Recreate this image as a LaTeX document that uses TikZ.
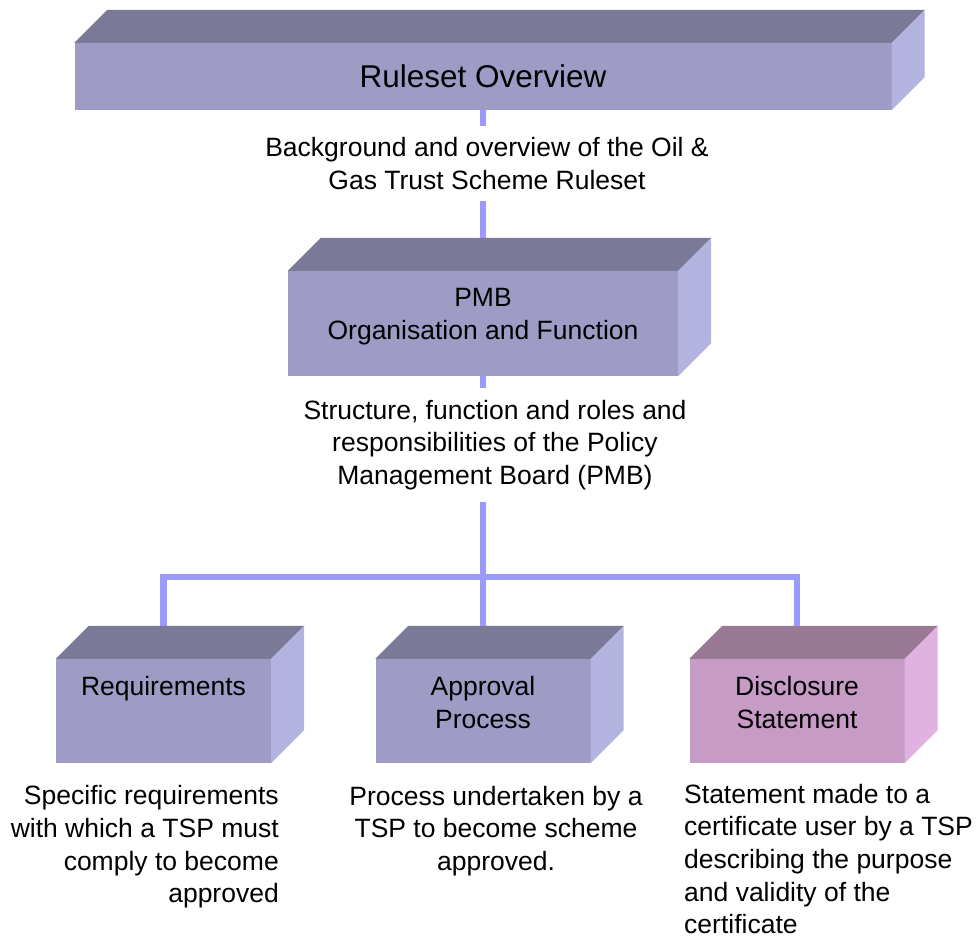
\documentclass[tikz,border=0pt]{standalone}
\usepackage{fontspec}
\setmainfont{Liberation Sans}
\usetikzlibrary{backgrounds}

\definecolor{boxfront}{HTML}{9E9CC5}
\definecolor{boxtop}{HTML}{7A7A98}
\definecolor{boxside}{HTML}{B3B3E0}
\definecolor{pinkfront}{HTML}{C69BC6}
\definecolor{pinktop}{HTML}{9A7995}
\definecolor{pinkside}{HTML}{E0B2E0}
\definecolor{linkblue}{HTML}{9B9BFF}

% top and side face of a box node
\newcommand{\boxfaces}[3]{%
  \fill[#2] (#1.north west) -- ++(33,-33) -- ([shift={(33,-33)}]#1.north east) -- (#1.north east) -- cycle;
  \fill[#3] (#1.north east) -- ++(33,-33) -- ([shift={(33,-33)}]#1.south east) -- (#1.south east) -- cycle;
}

\begin{document}
\begin{tikzpicture}
  [
  x=1pt, y=-1pt,
  font=\fontsize{26.5}{32.7}\selectfont,
  box/.style={rectangle, inner sep=0pt, fill=boxfront, align=center},
  smallbox/.style={box, minimum width=215pt, text height=36.5pt, text depth=67.5pt},
  twolines/.style={text height=69.2pt, text depth=34.8pt},
  note/.style={fill=white, inner xsep=2pt, inner ysep=11.5pt, align=center},
  link/.style={draw=linkblue, line width=6.5pt}
  ]
\useasboundingbox (0,0) rectangle (976,938);

\node[box, minimum width=817pt, minimum height=67pt, font=\fontsize{31.5}{38}\selectfont] (overview) at (483,76.5) {Ruleset Overview};
\boxfaces{overview}{boxtop}{boxside}
\node[note] (overviewnote) at (487,163.5) {Background and overview of the Oil \&\\Gas Trust Scheme Ruleset};

\node[box, minimum width=390pt, text height=68.5pt, text depth=36.5pt] (pmb) at (483,323.5) {PMB\\Organisation and Function};
\boxfaces{pmb}{boxtop}{boxside}
\node[note] (pmbnote) at (495,445) {Structure, function and roles and\\responsibilities of the Policy\\Management Board (PMB)};

\node[smallbox] (req) at (163.5,711) {Requirements};
\boxfaces{req}{boxtop}{boxside}
\node[smallbox, twolines] (appr) at (483,711) {Approval\\Process};
\boxfaces{appr}{boxtop}{boxside}
\node[smallbox, twolines, fill=pinkfront] (disc) at (797,711) {Disclosure\\Statement};
\boxfaces{disc}{pinktop}{pinkside}

\node[align=right, anchor=east, inner sep=0pt] (reqnote) at (279,847) {Specific requirements\\with which a TSP must\\comply to become\\approved};
\node[align=center, inner sep=0pt] (apprnote) at (496,831) {Process undertaken by a\\TSP to become scheme\\approved.};
\node[align=left, anchor=west, inner sep=0pt] (discnote) at (684,859) {Statement made to a\\certificate user by a TSP\\describing the purpose\\and validity of the\\certificate};

\coordinate (fork) at (483,577);
\begin{pgfonlayer}{background}
  \draw[link] (overview.south) -- (pmb.north);
  \draw[link] (pmb.south) -- (appr.north);
  \draw[link] (req.north) |- (fork) -| (disc.north);
\end{pgfonlayer}

\end{tikzpicture}
\end{document}
